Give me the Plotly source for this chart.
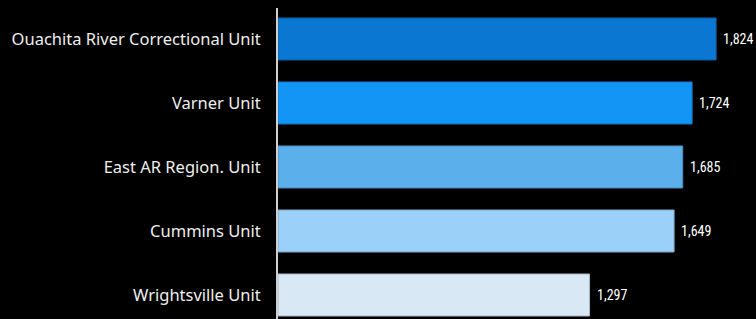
import plotly.graph_objects as go

categories = ["Ouachita River Correctional Unit", "Varner Unit", "East AR Region. Unit",
              "Cummins Unit", "Wrightsville Unit"]
values = [1824, 1724, 1685, 1649, 1297]
value_labels = ["1,824", "1,724", "1,685", "1,649", "1,297"]
bar_colors = ["#0A78D2", "#1395F5", "#5BB0EC", "#9BD1F8", "#D8E8F5"]
line_colors = ["#0A5FA5", "#0F78C6", "#4A8FC2", "#7AA8C9", "#A9B8C6"]

fig = go.Figure(go.Bar(
    x=values, y=categories, orientation="h",
    marker=dict(color=bar_colors, line=dict(color=line_colors, width=1)),
    width=0.656, hoverinfo="x+y",
))

for cat, val, lab in zip(categories, values, value_labels):
    fig.add_annotation(x=val, y=cat, text=lab, showarrow=False, xanchor="left",
                       xshift=5, font=dict(color="#ffffff", size=14, family="Roboto Condensed, Roboto"))

fig.update_layout(
    width=756, height=319,
    paper_bgcolor="#000000", plot_bgcolor="#000000",
    margin=dict(l=278, r=0, t=8, b=0),
    showlegend=False,
    xaxis=dict(range=[0, 1990], showgrid=False, zeroline=False, showticklabels=False,
               showline=False, fixedrange=True),
    yaxis=dict(range=[4.375, -0.484], showgrid=False, zeroline=False,
               showline=True, linecolor="#cfcfcf", linewidth=2,
               ticks="", ticklabelstandoff=12,
               tickfont=dict(color="#eeeeee", size=16.5, family="Noto Sans")),
)

fig.write_html("out.html", config={"displayModeBar": False},
               post_script="document.body.style.margin='0';document.body.style.background='#000';")
